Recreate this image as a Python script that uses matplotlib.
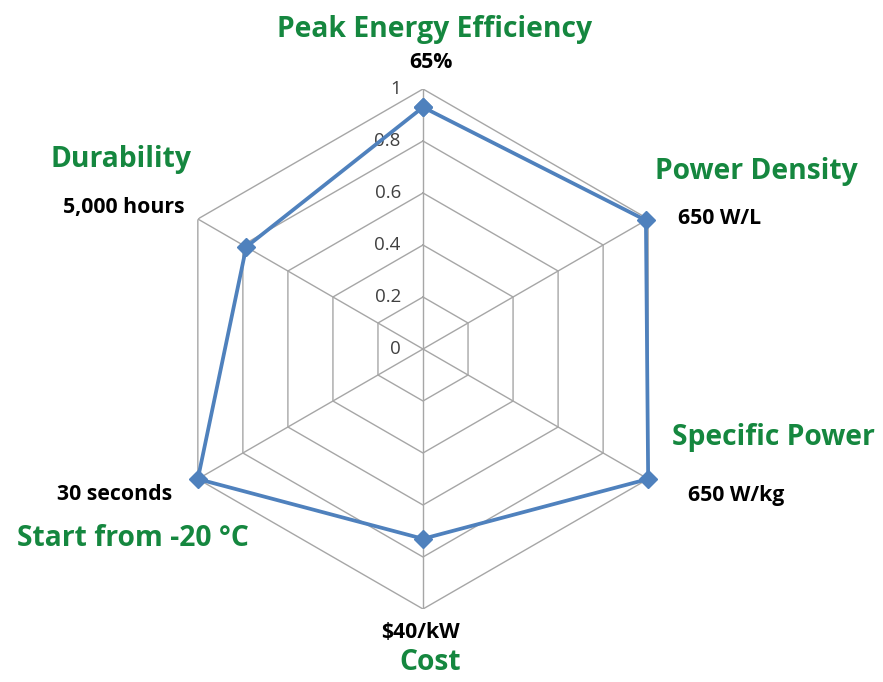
import numpy as np
import matplotlib
matplotlib.use('Agg')
import matplotlib.pyplot as plt

plt.rcParams['font.family'] = ['Open Sans', 'DejaVu Sans']

# data
categories = ['Peak Energy Efficiency', 'Power Density', 'Specific Power',
              'Cost', 'Start from -20 °C', 'Durability']
targets = ['65%', '650 W/L', '650 W/kg', '$40/kW', '30 seconds', '5,000 hours']
values = [0.93, 0.99, 1.0, 0.73, 1.0, 0.785]
ring_levels = [0.2, 0.4, 0.6, 0.8, 1.0]
tick_labels = ['0', '0.2', '0.4', '0.6', '0.8', '1']

green = '#15873F'
blue = '#4F81BD'
grid_col = '#A6A6A6'

fig = plt.figure(figsize=(8.83, 6.82), dpi=100)
ax = fig.add_axes([163 / 883, 73 / 682, 520 / 883, 520 / 682], projection='polar')
ax.set_theta_zero_location('N')
ax.set_theta_direction(-1)
ax.set_ylim(0, 1)
ax.grid(False)
ax.spines['polar'].set_visible(False)
ax.set_xticks([])
ax.set_yticks([])

n = len(categories)
angles = np.arange(n) * 2 * np.pi / n
closed = np.append(angles, angles[0])

# hexagon rings and spokes
for r in ring_levels:
    ax.plot(closed, [r] * (n + 1), color=grid_col, lw=1.0, zorder=1)
for a in angles:
    ax.plot([a, a], [0, 1], color=grid_col, lw=1.0, zorder=1)

# radial tick labels along the top axis
for i, lab in enumerate(tick_labels):
    r = i * 0.2
    ax.annotate(lab, xy=(0, r), xytext=(-16, 0), textcoords='offset points',
                ha='right', va='center', fontsize=13.5, color='#404040')

# data series
vals = np.append(values, values[0])
ax.plot(closed, vals, color=blue, lw=2.7, marker='D', markersize=9,
        zorder=3, clip_on=False)

# category labels (figure pixel coords)
W, H = 883, 682
cat_pos = [(435, 29), (756, 172), (773, 437), (430, 662), (133, 538), (121, 159)]
tgt_pos = [(431, 63), (720, 219), (736, 495), (420, 632), (115, 494), (124, 208)]
for name, (x, y) in zip(categories, cat_pos):
    fig.text(x / W, 1 - y / H, name, ha='center', va='center',
             fontsize=20.3, fontweight='bold', color=green)
for name, (x, y) in zip(targets, tgt_pos):
    fig.text(x / W, 1 - y / H, name, ha='center', va='center',
             fontsize=15.3, fontweight='bold', color='black')

fig.savefig('out.png', dpi=100)
